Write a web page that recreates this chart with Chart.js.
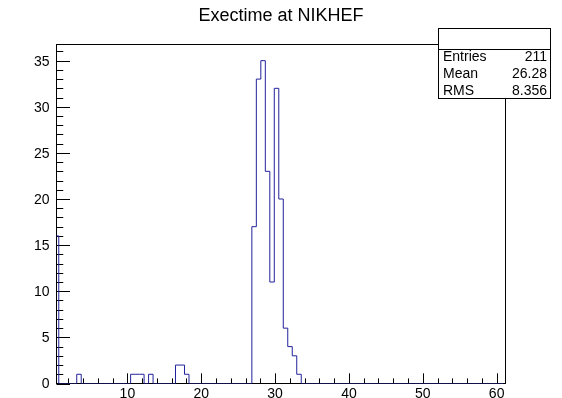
<!DOCTYPE html>
<html>
<head>
<meta charset="utf-8">
<script src="https://cdn.jsdelivr.net/npm/chart.js@4.4.0/dist/chart.umd.min.js"></script>
<style>
html,body{margin:0;padding:0;background:#fff;}
#wrap{width:562px;height:398px;position:relative;}
canvas{display:block;}
</style>
</head>
<body>
<div id="wrap"><canvas id="c" width="562" height="398"></canvas></div>
<script>
// ---- data ----
const chartTitle = 'Exectime at NIKHEF';
const binLow = 0.1;          // lower edge of first bin
const binWidth = 0.608;      // bin width
const counts = [
  16, 0, 0, 0, 0, 1, 0, 0, 0, 0,
   0, 0, 0, 0, 0, 0, 0, 1, 1, 1,
   0, 1, 0, 0, 0, 0, 0, 2, 2, 1,
   0, 0, 0, 0, 0, 0, 0, 0, 0, 0,
   0, 0, 0, 0,17,33,35,23,11,32,
  20, 6, 4, 3, 1, 0, 0, 0, 0, 0,
   0, 0, 0, 0, 0, 0, 0, 0, 0, 0,
   0, 0, 0, 0, 0, 0, 0, 0, 0, 0,
   0, 0, 0, 0, 0, 0, 0, 0, 0, 0,
   0, 0, 0, 0, 0, 0, 0, 0, 0, 0
];
const xRange = [0.4, 61.2];
const yRange = [0, 36.75];
const xMajorTicks = [10, 20, 30, 40, 50, 60];
const xMinorTicks = [2, 4, 6, 8, 12, 14, 16, 18, 22, 24, 26, 28, 32, 34, 36, 38, 42, 44, 46, 48, 52, 54, 56, 58];
const yMajorTicks = [0, 5, 10, 15, 20, 25, 30, 35];
const yMinorTicks = [1,2,3,4,6,7,8,9,11,12,13,14,16,17,18,19,21,22,23,24,26,27,28,29,31,32,33,34,36];
const statNames = ['Entries', 'Mean', 'RMS'];
const statValues = ['211', '26.28', '8.356'];

// ---- build step outline from bin counts ----
const points = [{x: binLow, y: 0}];
counts.forEach((c, k) => points.push({x: binLow + k * binWidth, y: c}));
points.push({x: binLow + counts.length * binWidth, y: 0});

const FONT = '"Liberation Sans", Arial, Helvetica, sans-serif';

const rootFrame = {
  id: 'rootFrame',
  beforeDatasetsDraw(chart) {
    const {ctx, chartArea: a, scales: {x, y}} = chart;
    ctx.save();
    ctx.strokeStyle = '#000';
    ctx.lineWidth = 1;
    ctx.strokeRect(a.left, a.top, a.right - a.left, a.bottom - a.top);
    ctx.beginPath();
    const xMaj = 10.2, xMin = 5.1, yMaj = 13.5, yMin = 6.75;
    xMajorTicks.forEach(v => { const p = Math.round(x.getPixelForValue(v)) + 0.5; ctx.moveTo(p, a.bottom); ctx.lineTo(p, a.bottom - xMaj); });
    xMinorTicks.forEach(v => { const p = Math.round(x.getPixelForValue(v)) + 0.5; ctx.moveTo(p, a.bottom); ctx.lineTo(p, a.bottom - xMin); });
    yMajorTicks.forEach(v => { const p = Math.round(y.getPixelForValue(v)) + 0.5; ctx.moveTo(a.left, p); ctx.lineTo(a.left + yMaj, p); });
    yMinorTicks.forEach(v => { const p = Math.round(y.getPixelForValue(v)) + 0.5; ctx.moveTo(a.left, p); ctx.lineTo(a.left + yMin, p); });
    ctx.stroke();
    ctx.fillStyle = '#000';
    ctx.font = '14px ' + FONT;
    ctx.textAlign = 'right';
    ctx.textBaseline = 'middle';
    yMajorTicks.forEach(v => ctx.fillText(String(v), a.left - 7, y.getPixelForValue(v) + 1));
    ctx.textAlign = 'center';
    ctx.textBaseline = 'alphabetic';
    xMajorTicks.forEach(v => ctx.fillText(String(v), x.getPixelForValue(v), 398));
    ctx.restore();
  },
  afterDraw(chart) {
    const {ctx} = chart;
    ctx.save();
    const L = 438.5, R = 550.5, T = 28.5, B = 98.5, S = 49.5;
    ctx.fillStyle = '#fff';
    ctx.fillRect(L, T, R - L, B - T);
    ctx.strokeStyle = '#000';
    ctx.lineWidth = 1;
    ctx.strokeRect(L, T, R - L, B - T);
    ctx.beginPath(); ctx.moveTo(L, S); ctx.lineTo(R, S); ctx.stroke();
    ctx.fillStyle = '#000';
    ctx.font = '14px ' + FONT;
    ctx.textBaseline = 'alphabetic';
    const base = [60.8, 77.8, 94.8];
    statNames.forEach((n, i) => {
      ctx.textAlign = 'left'; ctx.fillText(n, 443, base[i]);
      ctx.textAlign = 'right'; ctx.fillText(statValues[i], 547, base[i]);
    });
    ctx.restore();
  }
};

new Chart(document.getElementById('c'), {
  type: 'line',
  data: {
    datasets: [{
      data: points,
      stepped: 'before',
      borderColor: '#22229a',
      borderWidth: 1,
      pointRadius: 0,
      fill: false,
      tension: 0
    }]
  },
  options: {
    responsive: false,
    devicePixelRatio: 1,
    animation: false,
    parsing: true,
    layout: {padding: {left: 56.5, right: 56.5, top: 0, bottom: 14.5}},
    scales: {
      x: {type: 'linear', min: xRange[0], max: xRange[1], display: false},
      y: {type: 'linear', min: yRange[0], max: yRange[1], display: false}
    },
    plugins: {
      legend: {display: false},
      tooltip: {enabled: false},
      title: {
        display: true,
        text: chartTitle,
        color: '#000',
        font: {family: FONT, size: 18, weight: 'normal'},
        padding: {top: 5, bottom: 17.9}
      }
    }
  },
  plugins: [rootFrame]
});
</script>
</body>
</html>
